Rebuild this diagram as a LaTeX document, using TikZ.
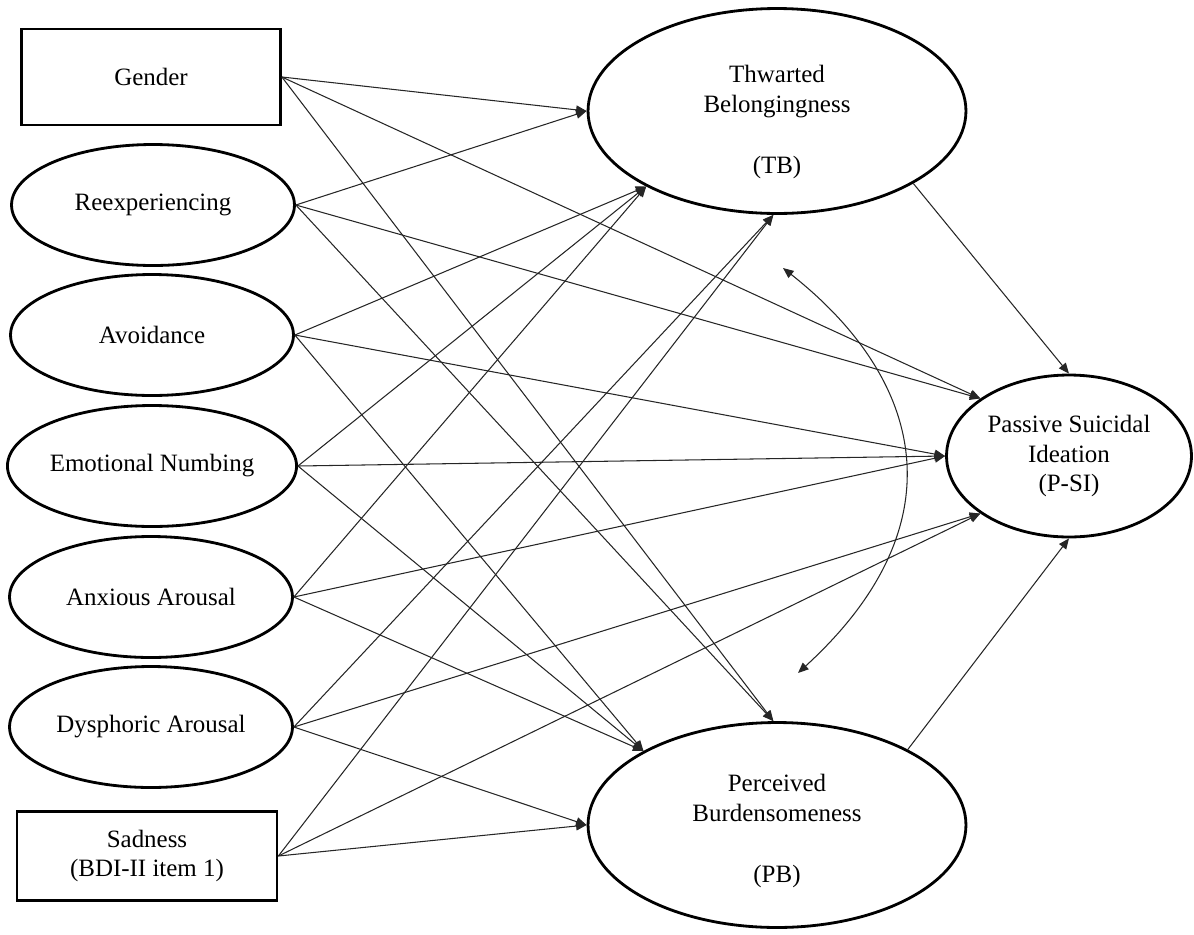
\documentclass[tikz,border=0pt]{standalone}
\usepackage{fontspec}
\setmainfont{Liberation Serif}
\usetikzlibrary{arrows.meta,shapes.geometric}

\begin{document}
\begin{tikzpicture}[
 x=0.02cm,y=-0.02cm,font=\fontsize{14.2}{17}\selectfont,
 box/.style={draw,line width=1.6pt,rectangle,align=center,inner sep=0pt},
 oval/.style={draw,line width=1.6pt,ellipse,align=center,inner sep=0pt},
 txt/.style={align=center,inner sep=0pt},
 path/.style={-{Triangle[length=6pt,width=5pt]},draw=black!85,line width=.6pt},
 both/.style={{Triangle[length=6pt,width=5pt]}-{Triangle[length=6pt,width=5pt]},draw=black!85,line width=.6pt}
]
\useasboundingbox (0,0) rectangle (1194,934);

% predictors
\node[box,minimum width=5.18cm,minimum height=1.92cm] (gender) at (151,77) {Gender};
\node[oval,minimum width=5.66cm,minimum height=2.42cm] (reexp) at (153,205) {Reexperiencing};
\node[oval,minimum width=5.66cm,minimum height=2.42cm] (avoid) at (152,335) {Avoidance};
\node[oval,minimum width=5.66cm,minimum height=2.42cm] (numb) at (152,466) {Emotional Numbing};
\node[oval,minimum width=5.66cm,minimum height=2.42cm] (anx) at (151,597) {Anxious Arousal};
\node[oval,minimum width=5.66cm,minimum height=2.42cm] (dys) at (151,727) {Dysphoric Arousal};
\node[box,minimum width=5.2cm,minimum height=1.78cm] (sad) at (147,856) {Sadness\\(BDI-II item 1)};

% mediators and outcome
\node[oval,minimum width=7.56cm,minimum height=4.1cm] (tb) at (777,111) {};
\node[txt] (tbtext) at (777,122) {Thwarted\\Belongingness\\[18pt](TB)};
\node[oval,minimum width=7.56cm,minimum height=4.1cm] (pb) at (777,825) {};
\node[txt] (pbtext) at (777,831) {Perceived\\Burdensomeness\\[18pt](PB)};
\node[oval,minimum width=4.9cm,minimum height=3.24cm] (psi) at (1069,456) {Passive Suicidal\\Ideation\\(P-SI)};

% paths to TB
\draw[path] (gender.east) -- (tb.west);
\draw[path] (reexp.east) -- (tb.west);
\draw[path] (avoid.east) -- (tb.210);
\draw[path] (numb.east) -- (tb.210);
\draw[path] (anx.east) -- (tb.210);
\draw[path] (dys.east) -- (tb.268);
\draw[path] (sad.east) -- (tb.268);

% paths to PB
\draw[path] (gender.east) -- (pb.92);
\draw[path] (reexp.east) -- (pb.92);
\draw[path] (avoid.east) -- (pb.151);
\draw[path] (numb.east) -- (pb.151);
\draw[path] (anx.east) -- (pb.151);
\draw[path] (dys.east) -- (pb.west);
\draw[path] (sad.east) -- (pb.west);

% paths to P-SI
\draw[path] (gender.east) -- (psi.147);
\draw[path] (reexp.east) -- (psi.147);
\draw[path] (avoid.east) -- (psi.west);
\draw[path] (numb.east) -- (psi.west);
\draw[path] (anx.east) -- (psi.west);
\draw[path] (dys.east) -- (psi.213);
\draw[path] (sad.east) -- (psi.213);
\draw[path] (tb.332) -- (psi.north);
\draw[path] (pb.30) -- (psi.south);

% covariance TB <-> PB
\coordinate (ctop) at (783,268);
\coordinate (cbot) at (798,673);
\draw[both] (ctop) .. controls (925,380) and (960,525) .. (cbot);
\end{tikzpicture}
\end{document}
